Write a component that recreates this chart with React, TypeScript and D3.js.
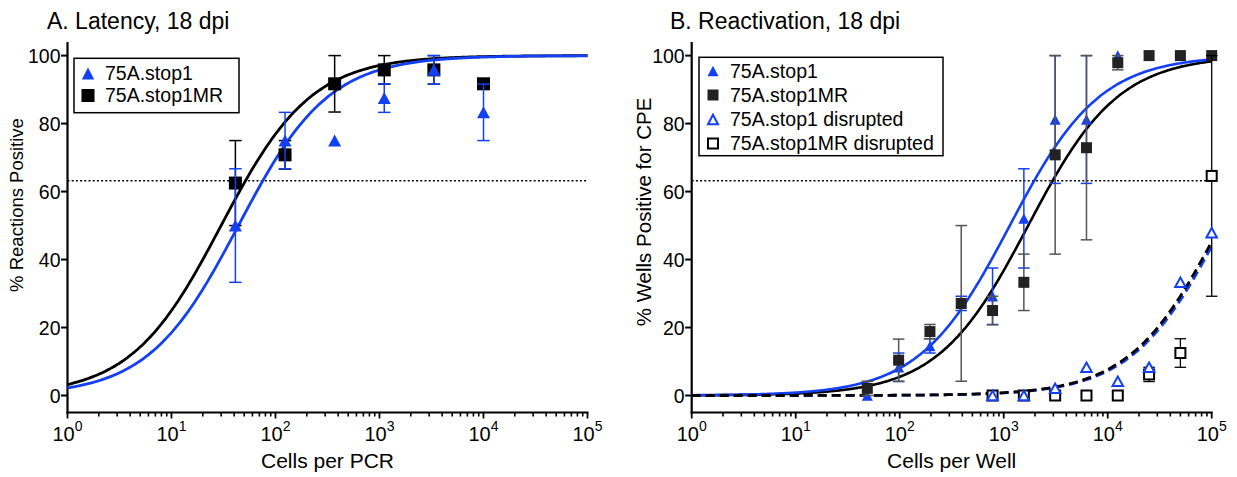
import React from 'react';
import * as d3 from 'd3';

// ---------- Panel A data ----------
const xA = [41.15, 123.5, 370.4, 1111, 3333, 10000];
const aStop1 = [50, 75, 75, 87.5, 95.8, 83.3];
const aStop1Err = [16.7, 8.3, 0, 4.2, 4.2, 8.3];
const aStop1MR = [62.5, 70.8, 91.7, 95.8, 95.8, 91.7];
const aStop1MRErr = [12.5, 4.2, 8.3, 4.2, 4.2, 0];
const aFitStop1EC50 = 44;
const aFitStop1MREC50 = 30;

// ---------- Panel B data ----------
const xB = [48.8, 97.7, 195.3, 390.6, 781.3, 1562.5, 3125, 6250, 12500, 25000, 50000, 100000];
const bStop1 = [0, 8.3, 14.6, 27.1, 29.2, 52.1, 81.2, 81.2, 100, 100, 100, 100];
const bStop1Err = [0, 4.2, 2.1, 2.1, 8.3, 14.6, 18.8, 18.8, 0, 0, 0, 0];
const bStop1MR = [2.1, 10.4, 18.8, 27.1, 25, 33.3, 70.8, 72.9, 97.9, 100, 100, 100];
const bStop1MRErr = [2.1, 6.2, 2.1, 22.9, 4.2, 8.3, 29.2, 27.1, 2.1, 0, 0, 0];
const xBDis = [781.3, 1562.5, 3125, 6250, 12500, 25000, 50000, 100000];
const bStop1Dis = [0, 0, 2.1, 8.3, 4.2, 8.3, 33.3, 47.9];
const bStop1MRDis = [0, 0, 0, 0, 0, 6.2, 12.5, 64.6];
const bStop1MRDisErr = [0, 0, 0, 0, 0, 2.1, 4.2, 35.4];
const bFitStop1EC50 = 1145;
const bFitStop1MREC50 = 1720;
const bFitStop1DisEC50 = 128000;
const bFitStop1MRDisEC50 = 121000;

const yTicks = [0, 20, 40, 60, 80, 100];
const xTickExps = [0, 1, 2, 3, 4, 5];
const legendA = ['75A.stop1', '75A.stop1MR'];
const legendB = ['75A.stop1', '75A.stop1MR', '75A.stop1 disrupted', '75A.stop1MR disrupted'];
const DOTTED_LEVEL = 63.2;

const BLUE = '#1440f5';
const DARK = '#222222';
const FONT = '"Liberation Sans", Arial, Helvetica, sans-serif';

const hill = (ec50: number) => (x: number) => (100 * x) / (x + ec50);
const samples = d3.range(0, 5.0001, 0.02).map((l) => Math.pow(10, l));

function triPath(cx: number, cy: number, w: number, h: number) {
  return `M${cx},${cy - h / 2}L${cx + w / 2},${cy + h / 2}L${cx - w / 2},${cy + h / 2}Z`;
}

type Panel = {
  x: d3.ScaleLogarithmic<number, number>;
  y: d3.ScaleLinear<number, number>;
};

function Axes({ x, y, xLabel, yLabel, title, titleX, yLabelSize, yLabelMid, yLabelX }: Panel & { xLabel: string; yLabel: string; title: string; titleX: number; yLabelSize: number; yLabelMid: number; yLabelX: number }) {
  const [x0, x1] = x.range();
  const [yb, yt] = y.range();
  const minor: number[] = [];
  for (let e = 0; e < 5; e++) for (let m = 2; m <= 9; m++) minor.push(m * Math.pow(10, e));
  return (
    <g fontFamily={FONT} fill="#000">
      <text x={titleX} y={29} fontSize={23}>{title}</text>
      <line x1={x0} x2={x0} y1={yb + 1} y2={yt} stroke="#000" strokeWidth={2.2} />
      <line x1={x0 - 1} x2={x1 + 1} y1={yb} y2={yb} stroke="#000" strokeWidth={2.2} />
      {yTicks.map((t) => (
        <g key={t}>
          <line x1={x0 - 6.5} x2={x0} y1={y(t)} y2={y(t)} stroke="#000" strokeWidth={2} />
          <text x={x0 - 7} y={y(t)} dy="0.36em" textAnchor="end" fontSize={19.5}>{t}</text>
        </g>
      ))}
      {minor.map((m) => (
        <line key={m} x1={x(m)} x2={x(m)} y1={yb} y2={yb + 4} stroke="#000" strokeWidth={1.6} />
      ))}
      {xTickExps.map((e) => (
        <g key={e}>
          <line x1={x(Math.pow(10, e))} x2={x(Math.pow(10, e))} y1={yb} y2={yb + 6} stroke="#000" strokeWidth={1.8} />
          <text x={x(Math.pow(10, e))} y={441} textAnchor="middle" fontSize={20}>
            10<tspan dy={-10.5} fontSize={14}>{e}</tspan>
          </text>
        </g>
      ))}
      <text x={(x0 + x1) / 2} y={468} textAnchor="middle" fontSize={21}>{xLabel}</text>
      <text transform={`translate(${yLabelX},${yLabelMid}) rotate(-90)`} textAnchor="middle" fontSize={yLabelSize}>{yLabel}</text>
    </g>
  );
}

function ErrBars({ xs, ys, errs, x, y, color, cap, width }: Panel & { xs: number[]; ys: number[]; errs: number[]; color: string; cap: number; width: number }) {
  return (
    <g stroke={color} strokeWidth={width} fill="none">
      {xs.map((xv, i) =>
        errs[i] > 0 ? (
          <g key={i}>
            <line x1={x(xv)} x2={x(xv)} y1={y(ys[i] - errs[i])} y2={y(Math.min(100, ys[i] + errs[i]))} />
            <line x1={x(xv) - cap / 2} x2={x(xv) + cap / 2} y1={y(ys[i] - errs[i])} y2={y(ys[i] - errs[i])} />
            <line x1={x(xv) - cap / 2} x2={x(xv) + cap / 2} y1={y(Math.min(100, ys[i] + errs[i]))} y2={y(Math.min(100, ys[i] + errs[i]))} />
          </g>
        ) : null
      )}
    </g>
  );
}

export default function App() {
  const yA = d3.scaleLinear().domain([-5, 104]).range([412.5, 42]);
  const xAs = d3.scaleLog().domain([1, 1e5]).range([67.5, 587.5]);
  const yB = d3.scaleLinear().domain([-5, 104]).range([412.5, 42]);
  const xBs = d3.scaleLog().domain([1, 1e5]).range([691.7, 1211.7]);

  const lineA = (f: (x: number) => number) =>
    d3.line<number>().x((d) => xAs(d)).y((d) => yA(f(d))).curve(d3.curveMonotoneX)(samples) || '';
  const lineB = (f: (x: number) => number) =>
    d3.line<number>().x((d) => xBs(d)).y((d) => yB(f(d))).curve(d3.curveMonotoneX)(samples) || '';

  return (
    <div style={{ position: 'absolute', left: 0, top: 0 }}>
      <svg width={1237} height={477} style={{ display: 'block', background: '#fff' }}>
        {/* ================= Panel A ================= */}
        <Axes x={xAs} y={yA} xLabel="Cells per PCR" yLabel="% Reactions Positive" title="A. Latency, 18 dpi" titleX={47}
          yLabelSize={18.5} yLabelMid={205} yLabelX={23} />
        <line x1={xAs(1)} x2={xAs(1e5)} y1={yA(DOTTED_LEVEL)} y2={yA(DOTTED_LEVEL)} stroke="#000" strokeWidth={1.6} strokeDasharray="2 2.2" />
        <path d={lineA(hill(aFitStop1MREC50))} stroke="#000" strokeWidth={2.8} fill="none" />
        <path d={lineA(hill(aFitStop1EC50))} stroke={BLUE} strokeWidth={2.8} fill="none" />
        <ErrBars x={xAs} y={yA} xs={xA} ys={aStop1MR} errs={aStop1MRErr} color="#000" cap={12.5} width={1.5} />
        {xA.map((xv, i) => (
          <rect key={i} x={xAs(xv) - 6.5} y={yA(aStop1MR[i]) - 6.5} width={13} height={13} fill="#000" />
        ))}
        <ErrBars x={xAs} y={yA} xs={xA} ys={aStop1} errs={aStop1Err} color={BLUE} cap={12.5} width={1.5} />
        {xA.map((xv, i) => (
          <path key={i} d={triPath(xAs(xv), yA(aStop1[i]), 13, 12)} fill={BLUE} />
        ))}
        <rect x={74} y={58.3} width={165} height={54.4} fill="#fff" stroke="#000" strokeWidth={1.5} />
        <path d={triPath(88, 73.5, 12.5, 12)} fill={BLUE} />
        <rect x={81.5} y={89} width={13} height={13} fill="#000" />
        {legendA.map((t, i) => (
          <text key={t} x={105} y={80 + i * 22} fontFamily={FONT} fontSize={19.5}>{t}</text>
        ))}

        {/* ================= Panel B ================= */}
        <Axes x={xBs} y={yB} xLabel="Cells per Well" yLabel="% Wells Positive for CPE" title="B. Reactivation, 18 dpi" titleX={670}
          yLabelSize={20.5} yLabelMid={212} yLabelX={651} />
        <line x1={xBs(1)} x2={xBs(1e5)} y1={yB(DOTTED_LEVEL)} y2={yB(DOTTED_LEVEL)} stroke="#000" strokeWidth={1.6} strokeDasharray="2 2.2" />
        <path d={lineB(hill(bFitStop1MREC50))} stroke="#000" strokeWidth={2.6} fill="none" />
        <path d={lineB(hill(bFitStop1EC50))} stroke={BLUE} strokeWidth={2.6} fill="none" />
        <path d={lineB(hill(bFitStop1DisEC50))} stroke={BLUE} strokeWidth={2.8} fill="none" strokeDasharray="9 5" />
        <path d={lineB(hill(bFitStop1MRDisEC50))} stroke="#000" strokeWidth={2.8} fill="none" strokeDasharray="9 5" />

        <ErrBars x={xBs} y={yB} xs={xB} ys={bStop1} errs={bStop1Err} color={BLUE} cap={11.5} width={1.5} />
        {xB.map((xv, i) => (
          <path key={i} d={triPath(xBs(xv), yB(bStop1[i]), 11, 10.5)} fill={BLUE} />
        ))}
        <ErrBars x={xBs} y={yB} xs={xB} ys={bStop1MR} errs={bStop1MRErr} color="#555" cap={11.5} width={1.5} />
        {xB.map((xv, i) => (
          <rect key={i} x={xBs(xv) - 5.5} y={yB(bStop1MR[i]) - 5.5} width={11} height={11} fill={DARK} />
        ))}
        <ErrBars x={xBs} y={yB} xs={xBDis} ys={bStop1MRDis} errs={bStop1MRDisErr} color="#000" cap={11.5} width={1.3} />
        {xBDis.map((xv, i) => (
          <rect key={i} x={xBs(xv) - 5} y={yB(bStop1MRDis[i]) - 5} width={10} height={10} fill="#fff" stroke="#000" strokeWidth={2} />
        ))}
        {xBDis.map((xv, i) => (
          <path key={i} d={triPath(xBs(xv), yB(bStop1Dis[i]), 10.5, 9.5)} fill="#fff" stroke={BLUE} strokeWidth={2} strokeLinejoin="miter" />
        ))}
        <rect x={699} y={57.3} width={244} height={98.4} fill="#fff" stroke="#000" strokeWidth={1.5} />
        <path d={triPath(713, 71, 11, 10.5)} fill={BLUE} />
        <rect x={707.5} y={89.5} width={11} height={11} fill={DARK} />
        <path d={triPath(713, 119.5, 10, 9.5)} fill="#fff" stroke={BLUE} strokeWidth={2} />
        <rect x={708} y={138.5} width={10} height={10} fill="#fff" stroke="#000" strokeWidth={2} />
        {legendB.map((t, i) => (
          <text key={t} x={730} y={77.5 + i * 24.2} fontFamily={FONT} fontSize={19.5}>{t}</text>
        ))}
      </svg>
    </div>
  );
}
